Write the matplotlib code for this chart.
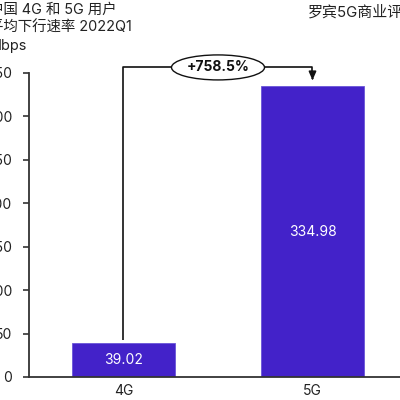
import matplotlib
matplotlib.use("Agg")
import matplotlib.pyplot as plt
from matplotlib.patches import Ellipse

plt.rcParams['font.family'] = ['Inter', 'Noto Sans CJK SC', 'DejaVu Sans']

categories = ["4G", "5G"]
values = [39.02, 334.98]
value_labels = ["39.02", "334.98"]
growth_label = "+758.5%"
yticks = [0, 50, 100, 150, 200, 250, 300, 350]
title_lines = ["中国 4G 和 5G 用户", "平均下行速率 2022Q1", "Mbps"]
source_text = "罗宾5G商业评估"

BAR = "#4322C9"
SPINE = "#333333"
FS = 10

W, H = 400, 400
fig = plt.figure(figsize=(4, 4), dpi=100)
ax = fig.add_axes([29 / W, 23 / H, 378 / W, 304 / H])

x = list(range(len(categories)))
ax.bar(x, values, width=0.55, color=BAR, edgecolor="#6a55d8", linewidth=0.6, zorder=2)
for xi, v, lab in zip(x, values, value_labels):
    ax.text(xi, v / 2, lab, ha="center", va="center", color="white", fontsize=FS, zorder=3)

ax.set_xlim(-0.5, 1.5)
ax.set_ylim(0, 350)
ax.set_xticks(x)
ax.set_xticklabels(categories, fontsize=FS, color="#222222")
ax.set_yticks(yticks)
ax.set_yticklabels([str(t) for t in yticks], fontsize=FS, color="#222222")
ax.tick_params(axis="x", length=0, pad=5)
ax.tick_params(axis="y", length=4, width=1.2, color=SPINE, pad=8)
for s in ["top", "right"]:
    ax.spines[s].set_visible(False)
for s in ["left", "bottom"]:
    ax.spines[s].set_color(SPINE)
    ax.spines[s].set_linewidth(1.3)

# growth bracket
top = max(values) * 1.064
y0 = values[0] + 4
y1 = values[1] + 3.5
ax.plot([x[0], x[0], x[1], x[1]], [y0, top, top, y1 + 8], color="#111111", lw=1.2,
        clip_on=False, zorder=4, solid_capstyle="butt")
ax.annotate("", xy=(x[1], y1), xytext=(x[1], y1 + 9),
            arrowprops=dict(arrowstyle="-|>,head_length=0.5,head_width=0.22", color="#111111", lw=1.2),
            annotation_clip=False, zorder=4)
mid = (x[0] + x[1]) / 2
ell = Ellipse((mid, top), width=93 / 189, height=25 / 0.8685, facecolor="white",
              edgecolor="#111111", lw=1.0, clip_on=False, zorder=5)
ax.add_patch(ell)
ax.text(mid, top, growth_label, ha="center", va="center", fontsize=FS, fontweight="bold",
        color="#111111", zorder=6, clip_on=False)

# title text (partly cut off at the left edge, as in the reference)
ys = [9.5, 28, 46]
for t, yy in zip(title_lines, ys):
    fig.text(-11 / W, 1 - yy / H, t, ha="left", va="center", fontsize=10.4, color="#222222")
fig.text(308 / W, 1 - 12 / H, source_text, ha="left", va="center", fontsize=10.8, color="#222222")

fig.savefig("out.png", dpi=100)
